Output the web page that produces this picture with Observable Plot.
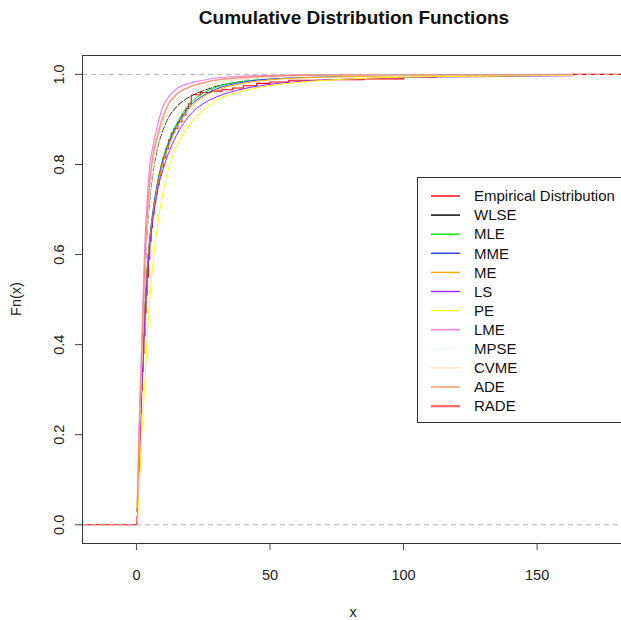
<!DOCTYPE html>
<html><head><meta charset="utf-8">
<script src="https://cdn.jsdelivr.net/npm/d3@7"></script>
<script src="https://cdn.jsdelivr.net/npm/@observablehq/plot@0.6"></script>
<style>body{margin:0;background:#fff} svg{display:block}</style>
</head><body><div id="chart"></div>
<script>
// ---- data ----
const xGrid = [0.3, 0.6, 1, 1.5, 2, 3, 4, 5, 6, 8, 10, 12, 15, 20, 25, 30, 40, 50, 60, 80, 100, 130, 163];
const WLSE = [0.04,0.09,0.18,0.27,0.36,0.53,0.65,0.725,0.775,0.84,0.878,0.905,0.928,0.951,0.964,0.974,0.986,0.992,0.995,0.998,0.999,0.9993,0.9995];
const MLE  = [0.03,0.08,0.16,0.24,0.32,0.46,0.57,0.64,0.69,0.765,0.815,0.85,0.89,0.935,0.958,0.972,0.985,0.991,0.994,0.997,0.998,0.999,0.9993];
const MME  = [0.03,0.08,0.16,0.24,0.31,0.455,0.565,0.635,0.685,0.76,0.81,0.845,0.885,0.93,0.953,0.968,0.983,0.99,0.994,0.997,0.998,0.999,0.9993];
const ME   = [0.03,0.08,0.16,0.23,0.31,0.45,0.56,0.63,0.68,0.755,0.805,0.84,0.88,0.925,0.95,0.965,0.98,0.988,0.992,0.995,0.997,0.998,0.999];
const LS   = [0.03,0.07,0.15,0.23,0.30,0.44,0.55,0.62,0.67,0.745,0.79,0.825,0.865,0.91,0.935,0.95,0.968,0.978,0.984,0.99,0.993,0.995,0.997];
const PE   = [0.01,0.03,0.08,0.14,0.20,0.30,0.41,0.50,0.57,0.67,0.74,0.79,0.84,0.89,0.92,0.942,0.963,0.975,0.982,0.99,0.994,0.996,0.998];
const LME  = [0.05,0.12,0.22,0.32,0.41,0.60,0.72,0.80,0.835,0.89,0.93,0.95,0.968,0.981,0.987,0.992,0.996,0.998,0.999,0.9995,0.9997,0.9998,0.9999];
const MPSE = [0.04,0.09,0.18,0.27,0.36,0.535,0.655,0.73,0.78,0.845,0.882,0.908,0.931,0.953,0.966,0.976,0.987,0.992,0.995,0.998,0.999,0.9993,0.9995];
const CVME = [0.04,0.09,0.19,0.28,0.37,0.55,0.67,0.745,0.795,0.855,0.893,0.92,0.944,0.963,0.974,0.981,0.99,0.994,0.996,0.998,0.999,0.9994,0.9996];
const ADE  = [0.04,0.10,0.20,0.29,0.38,0.56,0.68,0.76,0.81,0.865,0.905,0.933,0.955,0.972,0.981,0.987,0.993,0.996,0.998,0.999,0.9994,0.9996,0.9997];
const RADE = [0.045,0.10,0.205,0.295,0.385,0.565,0.685,0.765,0.815,0.87,0.91,0.936,0.957,0.973,0.982,0.988,0.994,0.996,0.998,0.999,0.9995,0.9997,0.9998];

// empirical distribution: step positions and levels
const ecdfX = [0.2,0.4,0.6,0.8,1.0,1.3,1.6,1.9,2.2,2.5,2.8,3.2,3.6,4.0,4.5,5.0,5.5,6.0,6.6,7.2,7.8,8.5,9.2,10,11,12,13,14,15.5,17,18.5,19.5,20.5,24,28,32,36,40,45,50,57,70,85,100,112,125,163];
const ecdfF = [0.02,0.05,0.08,0.12,0.16,0.21,0.25,0.30,0.34,0.38,0.42,0.47,0.51,0.55,0.59,0.63,0.66,0.69,0.715,0.735,0.755,0.775,0.795,0.815,0.835,0.855,0.87,0.88,0.895,0.91,0.925,0.935,0.955,0.96,0.963,0.966,0.97,0.975,0.98,0.983,0.987,0.988,0.99,0.993,0.996,0.998,1];

const seriesNames  = ["Empirical Distribution","WLSE","MLE","MME","ME","LS","PE","LME","MPSE","CVME","ADE","RADE"];
const seriesColors = ["#ff0000","#000000","#00e000","#2a3cff","#ffa500","#a020f0","#ffff00","#ee82ee","#eefcf8","#ffe4c4","#ffa07a","#ff6a6a"];
const seriesWidths = [1,1,1,1,1,1,1,1.2,1,1,1.2,1];
const seriesOpacity = [1,1,1,1,1,1,1,1,1,1,1,0.55];
const fitted = {WLSE, MLE, MME, ME, LS, PE, LME, MPSE, CVME, ADE, RADE};

const xTicks = [0, 50, 100, 150];
const yTicks = [0, 0.2, 0.4, 0.6, 0.8, 1.0];
const xDomain = [-20.2, 181.6];
const yDomain = [-0.0415, 1.042];

// ---- tables ----
const ecdfRows = [{x: xDomain[0], F: 0}, ...ecdfX.map((x, i) => ({x, F: ecdfF[i]})), {x: xDomain[1], F: 1}];

const lineMarks = [];
lineMarks.push(Plot.line(ecdfRows, {x: "x", y: "F", curve: "step-after", stroke: seriesColors[0], strokeWidth: 1.1, clip: true}));
seriesNames.slice(1).forEach((name, k) => {
  const vals = fitted[name];
  const rows = xGrid.map((x, i) => ({x, F: vals[i]}));
  const extra = name === "WLSE" ? {strokeDasharray: "6,2"} : {};
  lineMarks.push(Plot.line(rows, {x: "x", y: "F", curve: "monotone-x", stroke: seriesColors[k + 1], strokeWidth: seriesWidths[k + 1], strokeOpacity: seriesOpacity[k + 1], clip: true, ...extra}));
});

const chart = Plot.plot({
  width: 621, height: 620,
  marginTop: 55, marginBottom: 77, marginLeft: 82, marginRight: 0,
  style: {fontFamily: "'Liberation Sans', Arial, sans-serif", background: "#fff", color: "#222"},
  x: {domain: xDomain},
  y: {domain: yDomain},
  marks: [
    ...lineMarks,
    Plot.ruleY([0, 1], {stroke: "#b3b3b3", strokeDasharray: "5,4"}),
    Plot.ruleX([xDomain[0]], {stroke: "#333"}),
    Plot.ruleY([yDomain[0], yDomain[1]], {stroke: "#333"}),
    Plot.axisX({ticks: xTicks, tickSize: 7, tickPadding: 19, fontSize: 14.5, label: null, stroke: "#444"}),
    Plot.axisY({ticks: yTicks, tickSize: 7, tickPadding: 12, fontSize: 14.5, label: null, tickRotate: -90, tickFormat: d => d.toFixed(1), stroke: "#444"})
  ]
});
document.getElementById("chart").appendChild(chart);

// ---- annotations: title, axis titles, legend ----
const svg = d3.select(chart);
const ff = "'Liberation Sans', Arial, sans-serif";
svg.append("text").attr("x", 354).attr("y", 24).attr("text-anchor", "middle")
  .attr("font-family", ff).attr("font-weight", "bold").attr("font-size", 19).attr("fill", "#111")
  .text("Cumulative Distribution Functions");
svg.append("text").attr("x", 353).attr("y", 617).attr("text-anchor", "middle")
  .attr("font-family", ff).attr("font-size", 14.5).attr("fill", "#222").text("x");
svg.append("text").attr("transform", "translate(21,299) rotate(-90)").attr("text-anchor", "middle")
  .attr("font-family", ff).attr("font-size", 14.5).attr("fill", "#222").text("Fn(x)");

const lg = svg.append("g");
lg.append("rect").attr("x", 417.5).attr("y", 177.5).attr("width", 210).attr("height", 245)
  .attr("fill", "#fff").attr("stroke", "#333");
seriesNames.forEach((name, i) => {
  const y = 196 + i * 19.1;
  lg.append("line").attr("x1", 431).attr("x2", 460).attr("y1", y).attr("y2", y)
    .attr("stroke", seriesColors[i]).attr("stroke-width", (i === 11 ? 2 : seriesWidths[i]) + 0.4);
  lg.append("text").attr("x", 474).attr("y", y).attr("dy", "0.35em").attr("text-anchor", "start")
    .attr("font-family", ff).attr("font-size", 15).attr("fill", "#111").text(name);
});
</script>
</body></html>
